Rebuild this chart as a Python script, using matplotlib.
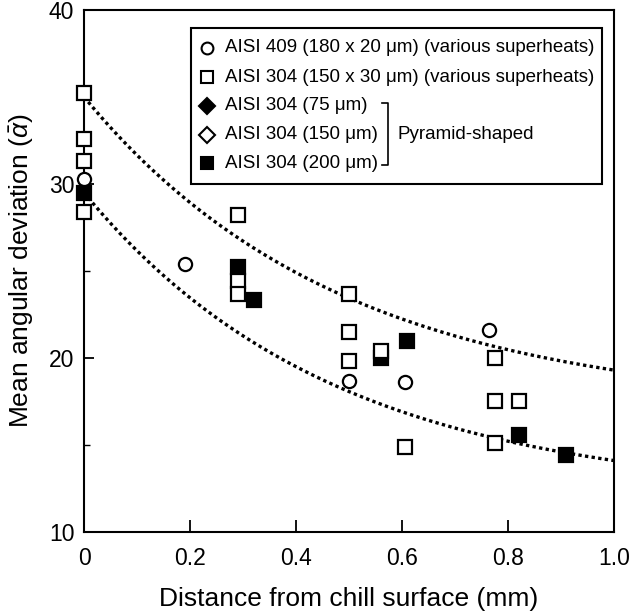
import numpy as np
import matplotlib
matplotlib.use("Agg")
import matplotlib.pyplot as plt
from matplotlib.patches import Rectangle

plt.rcParams['font.family'] = ['Liberation Sans', 'DejaVu Sans']
plt.rcParams['mathtext.fontset'] = 'custom'
plt.rcParams['mathtext.rm'] = 'Liberation Sans'
plt.rcParams['mathtext.it'] = 'Liberation Sans:italic'

# ---- data ----
aisi409_x = [0.0, 0.19, 0.50, 0.605, 0.765]
aisi409_y = [30.3, 25.4, 18.7, 18.6, 21.6]

aisi304_open_x = [0.0, 0.0, 0.0, 0.0, 0.29, 0.29, 0.29, 0.50, 0.50, 0.50, 0.56, 0.605, 0.775, 0.775, 0.775, 0.82]
aisi304_open_y = [35.2, 32.6, 31.3, 28.4, 28.2, 24.4, 23.7, 23.7, 21.5, 19.8, 20.4, 14.9, 20.0, 17.5, 15.1, 17.5]

aisi304_75_x, aisi304_75_y = [], []
aisi304_150_x, aisi304_150_y = [], []

aisi304_200_x = [0.0, 0.29, 0.32, 0.56, 0.61, 0.82, 0.91]
aisi304_200_y = [29.5, 25.2, 23.3, 20.0, 21.0, 15.6, 14.4]

# trend curves (upper / lower envelopes): y = a + b*exp(-x/c)
upper_a, upper_b, upper_c = 17.0, 18.0, 0.486
lower_a, lower_b, lower_c = 12.0, 17.5, 0.472

legend_labels = [
    "AISI 409 (180 x 20 \u03bcm) (various superheats)",
    "AISI 304 (150 x 30 \u03bcm) (various superheats)",
    "AISI 304 (75 \u03bcm)",
    "AISI 304 (150 \u03bcm)",
    "AISI 304 (200 \u03bcm)",
]

fig = plt.figure(figsize=(6.34, 6.15), dpi=100)
ax = fig.add_axes([0.1325, 0.135, 0.836, 0.849])

xc = np.linspace(0, 1.0, 300)
ax.plot(xc, upper_a + upper_b * np.exp(-xc / upper_c), color='black', lw=2.4,
        linestyle=(0, (1, 1)), zorder=1)
ax.plot(xc, lower_a + lower_b * np.exp(-xc / lower_c), color='black', lw=2.4,
        linestyle=(0, (1, 1)), zorder=1)

ms = 9.5
mew = 1.6
ax.plot(aisi409_x, aisi409_y, 'o', ms=ms, mfc='white', mec='black', mew=mew,
        linestyle='none', zorder=3, clip_on=False)
ax.plot(aisi304_200_x, aisi304_200_y, 's', ms=ms, mfc='black', mec='black', mew=mew,
        linestyle='none', zorder=3, clip_on=False)
ax.plot(aisi304_open_x, aisi304_open_y, 's', ms=ms, mfc='white', mec='black', mew=mew,
        linestyle='none', zorder=4, clip_on=False)
ax.plot(aisi304_75_x, aisi304_75_y, 'D', ms=ms, mfc='black', mec='black', linestyle='none')
ax.plot(aisi304_150_x, aisi304_150_y, 'D', ms=ms, mfc='white', mec='black', linestyle='none')

ax.set_xlim(0, 1.0)
ax.set_ylim(10, 40)
ax.set_xticks([0, 0.2, 0.4, 0.6, 0.8, 1.0])
ax.set_xticklabels(['0', '0.2', '0.4', '0.6', '0.8', '1.0'])
ax.set_yticks([10, 20, 30, 40])
ax.set_yticks([15, 25, 35], minor=True)
ax.tick_params(axis='both', which='major', direction='in', labelsize=16.5, width=1.3)
ax.tick_params(axis='x', which='major', length=9, pad=11)
ax.tick_params(axis='y', which='major', length=7, pad=7)
ax.tick_params(axis='y', which='minor', direction='in', length=4, width=1.0)
for s in ax.spines.values():
    s.set_linewidth(1.5)

ax.set_xlabel("Distance from chill surface (mm)", fontsize=19, labelpad=12)
ax.set_ylabel(r"Mean angular deviation ($\bar{\alpha}$)", fontsize=19, labelpad=10)

# ---- custom legend ----
T = ax.transAxes
ax.add_patch(Rectangle((0.202, 0.667), 0.775, 0.2985, transform=T, fill=False,
                       edgecolor='black', lw=1.5, zorder=5))
row_y = [0.927, 0.871, 0.816, 0.761, 0.706]
markers = [('o', 'white'), ('s', 'white'), ('D', 'black'), ('D', 'white'), ('s', 'black')]
msz = [8.5, 8.0, 8.0, 8.0, 8.0]
for yy, (mk, fc), lab, m in zip(row_y, markers, legend_labels, msz):
    ax.plot([0.232], [yy], marker=mk, ms=m, mfc=fc, mec='black', mew=1.5,
            transform=T, linestyle='none', zorder=6, clip_on=False)
    ax.text(0.266, yy, lab, transform=T, fontsize=13.5, va='center', ha='left', zorder=6)

# bracket for pyramid-shaped
bx = 0.574
ax.plot([bx - 0.011, bx, bx, bx - 0.011], [0.822, 0.822, 0.703, 0.703],
        color='black', lw=1.2, transform=T, zorder=6)
ax.text(0.592, 0.761, "Pyramid-shaped", transform=T, fontsize=13.5, va='center', ha='left', zorder=6)

fig.savefig("out.png", dpi=100)
